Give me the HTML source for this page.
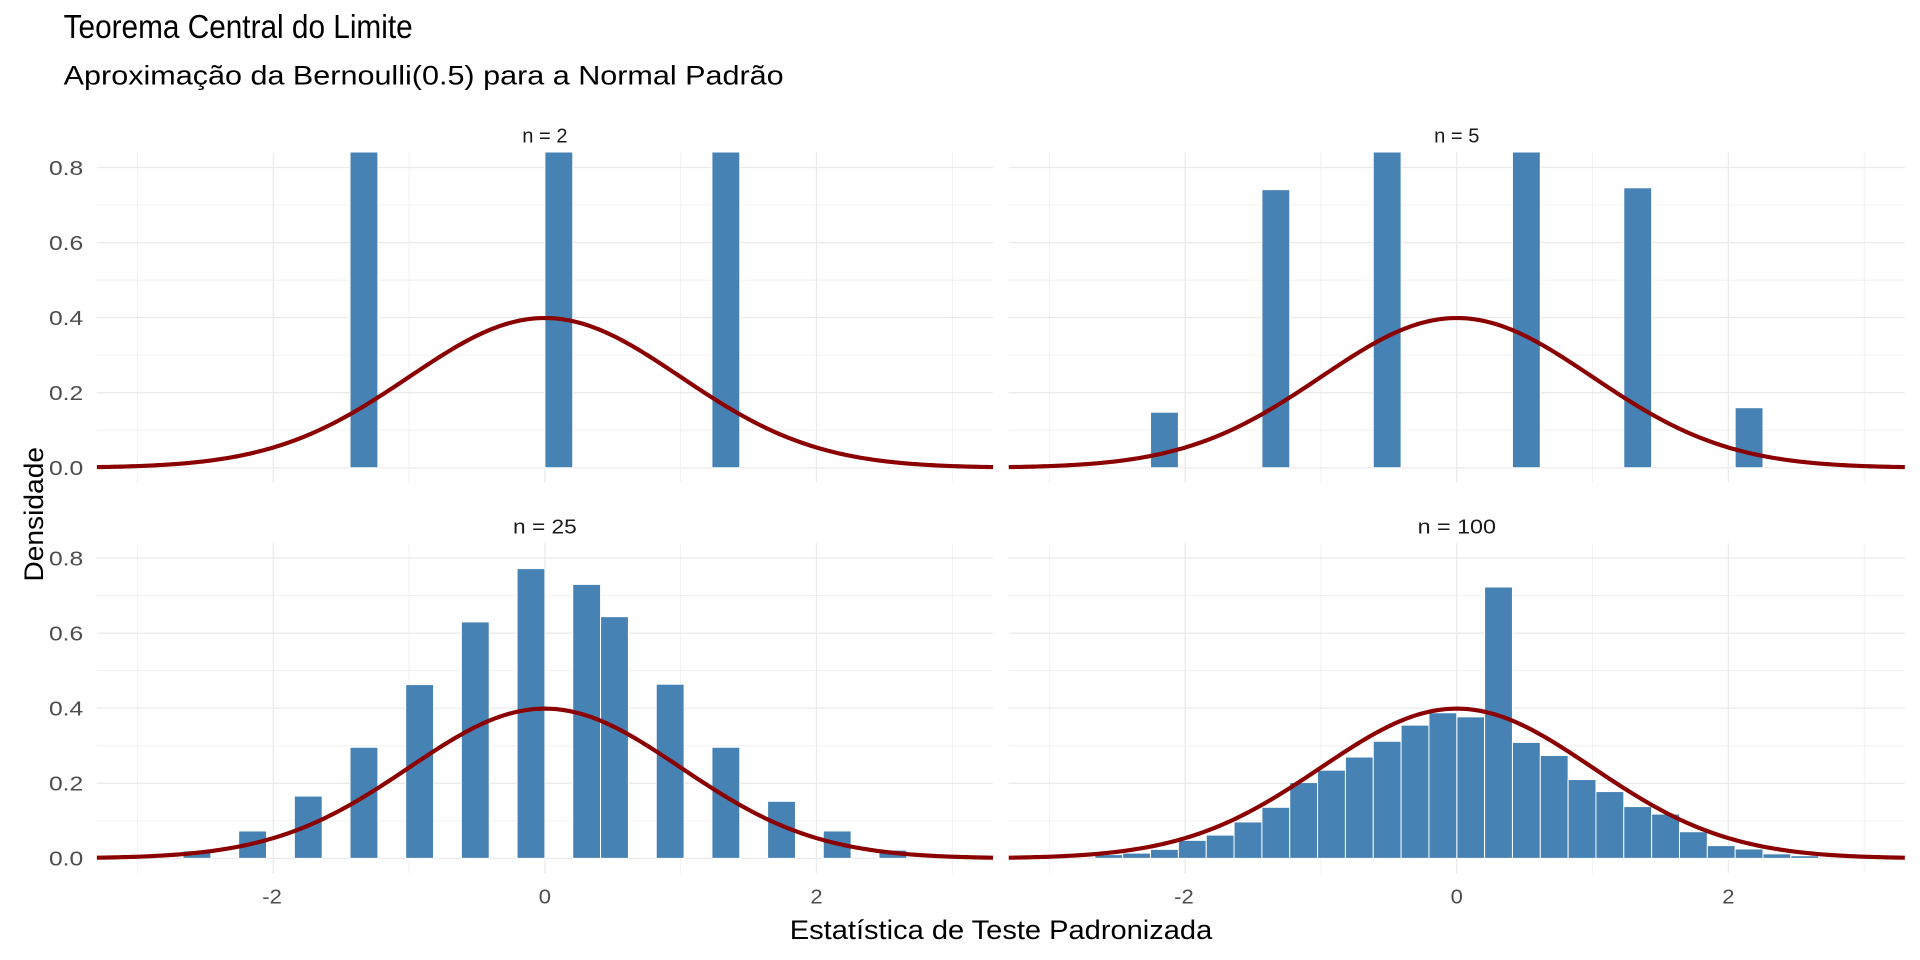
<!DOCTYPE html>
<html><head><meta charset="utf-8">
<style>
html,body{margin:0;padding:0;background:#fff;}
svg{display:block;}
text{font-family:"Liberation Sans",sans-serif;}
</style></head>
<body>
<svg id="s" width="1920" height="960" viewBox="0 0 1568 784" xmlns="http://www.w3.org/2000/svg">
<rect width="1568" height="784" fill="#fff"/>
<text x="52" y="31" font-size="27" fill="#000" textLength="285" lengthAdjust="spacingAndGlyphs">Teorema Central do Limite</text>
<text x="52" y="69" font-size="22" fill="#000" textLength="588" lengthAdjust="spacingAndGlyphs">Aproximação da Bernoulli(0.5) para a Normal Padrão</text>
<text x="645" y="767" font-size="22" fill="#000" textLength="345" lengthAdjust="spacingAndGlyphs">Estatística de Teste Padronizada</text>
<text transform="translate(35,475) rotate(-90)" font-size="22" fill="#000" textLength="110" lengthAdjust="spacingAndGlyphs">Densidade</text>
<g id="g"></g>
</svg>
<script>
(function(){
var NS="http://www.w3.org/2000/svg",g=document.getElementById("g");
function el(t,a,p){var e=document.createElementNS(NS,t);for(var k in a)e.setAttribute(k,a[k]);(p||g).appendChild(e);return e;}
var w=0.205;
var panels=[
 {x0:445,y0:382,label:"n = 2",lw:37,bars:{"-7":2,"0":2,"6":2},ylab:true,xlab:false},
 {x0:1189.7,y0:382,label:"n = 5",lw:37,bars:{"-11":0.148,"-7":0.741,"-3":2,"2":2,"6":0.746,"10":0.16},ylab:false,xlab:false},
 {x0:445,y0:701,label:"n = 25",lw:52,bars:{"-13":0.02,"-11":0.073,"-9":0.166,"-7":0.296,"-5":0.463,"-3":0.63,"-1":0.772,"1":0.73,"2":0.644,"4":0.464,"6":0.296,"8":0.152,"10":0.073,"12":0.022},ylab:true,xlab:true},
 {x0:1189.7,y0:701,label:"n = 100",lw:64,bars:{"-13":0.01,"-12":0.014,"-11":0.024,"-10":0.048,"-9":0.062,"-8":0.097,"-7":0.136,"-6":0.202,"-5":0.235,"-4":0.27,"-3":0.312,"-2":0.355,"-1":0.388,"0":0.377,"1":0.723,"2":0.309,"3":0.274,"4":0.21,"5":0.178,"6":0.138,"7":0.118,"8":0.071,"9":0.034,"10":0.025,"11":0.012,"12":0.007},ylab:false,xlab:true}
];
var ux=110.9,uy=306.5;
panels.forEach(function(p,i){
 var L=p.x0-3.3*ux,R=p.x0+3.3*ux,T=p.y0-0.84*uy,B=p.y0+0.04*uy;
 var cid="c"+i;
 var cp=el("clipPath",{id:cid});el("rect",{x:L,y:T,width:R-L,height:B-T},cp);
 [0.1,0.3,0.5,0.7].forEach(function(v){var y=p.y0-v*uy;el("line",{x1:L,x2:R,y1:y,y2:y,stroke:"#ebebeb","stroke-width":0.55});});
 [-3,-1,1,3].forEach(function(v){var x=p.x0+v*ux;el("line",{x1:x,x2:x,y1:T,y2:B,stroke:"#ebebeb","stroke-width":0.55});});
 [0,0.2,0.4,0.6,0.8].forEach(function(v){var y=p.y0-v*uy;el("line",{x1:L,x2:R,y1:y,y2:y,stroke:"#ebebeb","stroke-width":1.1});
   if(p.ylab){var t=el("text",{x:40,y:y+6,"font-size":16.5,fill:"#4d4d4d",textLength:28,lengthAdjust:"spacingAndGlyphs"});t.textContent=v.toFixed(1);}});
 [-2,0,2].forEach(function(v){var x=p.x0+v*ux;el("line",{x1:x,x2:x,y1:T,y2:B,stroke:"#ebebeb","stroke-width":1.1});
   if(p.xlab){var lw=v<0?16:10;var t=el("text",{x:x-lw/2-(v<0?1:0),y:738,"font-size":16.5,fill:"#4d4d4d",textLength:lw,lengthAdjust:"spacingAndGlyphs"});t.textContent=v;}});
 var bg=el("g",{"clip-path":"url(#"+cid+")"});
 for(var k in p.bars){var h=p.bars[k],kk=+k;var x1=p.x0+kk*w*ux,x2=p.x0+(kk+1)*w*ux;
   el("rect",{x:x1,y:p.y0-h*uy,width:x2-x1,height:h*uy,fill:"#4682b4",stroke:"#fff","stroke-width":0.8},bg);}
 var d="";for(var j=0;j<=300;j++){var z=-3.3+6.6*j/300;var yv=Math.exp(-z*z/2)/Math.sqrt(2*Math.PI);
   d+=(j?"L":"M")+(p.x0+z*ux).toFixed(2)+","+(p.y0-yv*uy).toFixed(2);}
 el("path",{d:d,fill:"none",stroke:"#8b0000","stroke-width":3.4,"clip-path":"url(#"+cid+")"});
 var t=el("text",{x:p.x0-p.lw/2,y:T-8,"font-size":16.5,fill:"#1a1a1a",textLength:p.lw,lengthAdjust:"spacingAndGlyphs"});t.textContent=p.label;
});
})();
</script>
</body></html>
